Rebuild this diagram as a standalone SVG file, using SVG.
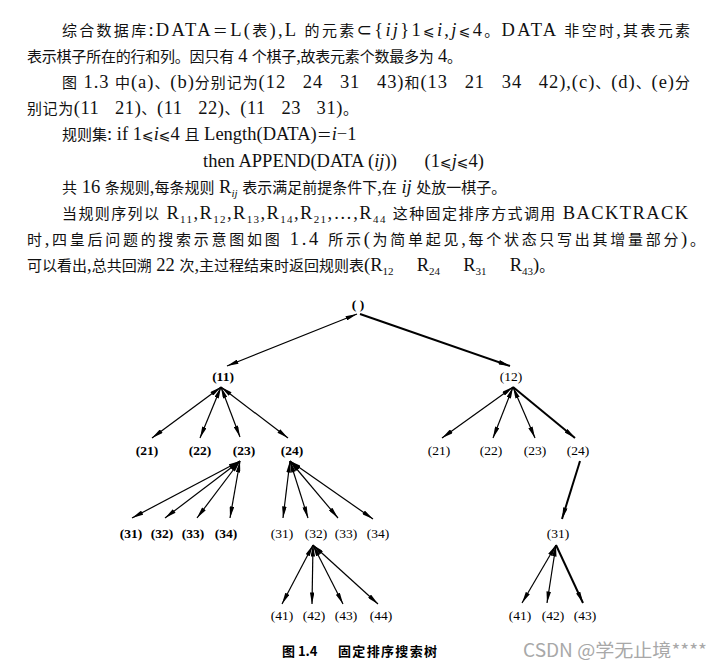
<svg xmlns="http://www.w3.org/2000/svg" width="722" height="668" viewBox="0 0 722 668">
<style>
.t{font-family:"Liberation Serif","DejaVu Sans","Noto Sans CJK SC",serif;font-size:18.5px;fill:#111}
.c{font-family:"Noto Sans CJK SC",sans-serif;font-size:15px}
.le{font-family:"DejaVu Sans",sans-serif;font-size:14px}
.i{font-style:italic}
.sb{font-size:11px}
.n{font-family:"Liberation Serif","DejaVu Serif",serif;font-size:13.5px;fill:#000;text-anchor:middle}
.b{font-weight:bold}
.e{fill:none;stroke:#000;stroke-width:1.2}
.d{marker-start:url(#h);marker-end:url(#a)}
.s{fill:none;stroke:#000;stroke-width:2;marker-end:url(#a)}
</style>
<defs>
<marker id="a" viewBox="0 0 10 4" refX="10" refY="2" markerWidth="12" markerHeight="4.6" markerUnits="userSpaceOnUse" orient="auto"><path d="M0,0L10,2L0,4z" fill="#000"/></marker>
<marker id="h" viewBox="0 0 10 4" refX="10" refY="2" markerWidth="12" markerHeight="4.6" markerUnits="userSpaceOnUse" orient="auto-start-reverse"><path d="M0,0L10,2L0,4z" fill="#000"/></marker>
</defs>
<rect width="722" height="668" fill="#fff"/>
<g id="body-text" class="t">
<text x="62" y="36" textLength="628" lengthAdjust="spacing"><tspan class="c">综合数据库</tspan>:DATA<tspan class="c">＝</tspan>L(<tspan class="c">表</tspan>),L <tspan class="c">的元素</tspan>⊂{<tspan class="i">ij</tspan>}1<tspan class="le">⩽</tspan><tspan class="i">i</tspan>,<tspan class="i">j</tspan><tspan class="le">⩽</tspan>4<tspan class="c">。</tspan>DATA <tspan class="c">非空时</tspan>,<tspan class="c">其表元素</tspan></text>
<text x="27" y="62" textLength="435" lengthAdjust="spacing"><tspan class="c">表示棋子所在的行和列。因只有</tspan> 4 <tspan class="c">个棋子</tspan>,<tspan class="c">故表元素个数最多为</tspan> 4<tspan class="c">。</tspan></text>
<text x="62" y="88" textLength="628" lengthAdjust="spacing" xml:space="preserve"><tspan class="c">图</tspan> 1.3 <tspan class="c">中</tspan>(a)<tspan class="c">、</tspan>(b)<tspan class="c">分别记为</tspan>(12   24   31   43)<tspan class="c">和</tspan>(13   21   34   42),(c)<tspan class="c">、</tspan>(d)<tspan class="c">、</tspan>(e)<tspan class="c">分</tspan></text>
<text x="27" y="114" textLength="331" lengthAdjust="spacing" xml:space="preserve"><tspan class="c">别记为</tspan>(11   21)<tspan class="c">、</tspan>(11   22)<tspan class="c">、</tspan>(11   23   31)<tspan class="c">。</tspan></text>
<text x="62" y="140"><tspan class="c">规则集</tspan>: if 1<tspan class="le">⩽</tspan><tspan class="i">i</tspan><tspan class="le">⩽</tspan>4 <tspan class="c">且</tspan> Length(DATA)<tspan class="c">＝</tspan><tspan class="i">i</tspan>−1</text>
<text x="203" y="167" xml:space="preserve">then APPEND(DATA (<tspan class="i">ij</tspan>))      (1<tspan class="le">⩽</tspan><tspan class="i">j</tspan><tspan class="le">⩽</tspan>4)</text>
<text x="62" y="193"><tspan class="c">共</tspan> 16 <tspan class="c">条规则</tspan>,<tspan class="c">每条规则</tspan> R<tspan class="sb i" dy="4">ij</tspan><tspan dy="-4"> </tspan><tspan class="c">表示满足前提条件下</tspan>,<tspan class="c">在</tspan> <tspan class="i">ij</tspan> <tspan class="c">处放一棋子。</tspan></text>
<text x="62" y="219" textLength="626" lengthAdjust="spacing"><tspan class="c">当规则序列以</tspan> R<tspan class="sb" dy="4">11</tspan><tspan dy="-4">,R</tspan><tspan class="sb" dy="4">12</tspan><tspan dy="-4">,R</tspan><tspan class="sb" dy="4">13</tspan><tspan dy="-4">,R</tspan><tspan class="sb" dy="4">14</tspan><tspan dy="-4">,R</tspan><tspan class="sb" dy="4">21</tspan><tspan dy="-4">,…,R</tspan><tspan class="sb" dy="4">44</tspan><tspan dy="-4"> </tspan><tspan class="c">这种固定排序方式调用</tspan> BACKTRACK</text>
<text x="27" y="245" textLength="678" lengthAdjust="spacing"><tspan class="c">时</tspan>,<tspan class="c">四皇后问题的搜索示意图如图</tspan> 1.4 <tspan class="c">所示</tspan>(<tspan class="c">为简单起见</tspan>,<tspan class="c">每个状态只写出其增量部分</tspan>)<tspan class="c">。</tspan></text>
<text x="27" y="271" xml:space="preserve"><tspan class="c">可以看出</tspan>,<tspan class="c">总共回溯</tspan> 22 <tspan class="c">次</tspan>,<tspan class="c">主过程结束时返回规则表</tspan>(R<tspan class="sb" dy="4">12</tspan><tspan dy="-4">     R</tspan><tspan class="sb" dy="4">24</tspan><tspan dy="-4">     R</tspan><tspan class="sb" dy="4">31</tspan><tspan dy="-4">     R</tspan><tspan class="sb" dy="4">43</tspan><tspan dy="-4">)</tspan><tspan class="c">。</tspan></text>
</g>
<g id="connectors">
<line class="e d" x1="357" y1="314" x2="227" y2="366"/>
<line class="s" x1="360" y1="314" x2="510" y2="366"/>
<line class="e d" x1="221" y1="387" x2="152" y2="438"/>
<line class="e d" x1="221" y1="387" x2="200" y2="438"/>
<line class="e d" x1="221" y1="387" x2="240" y2="437"/>
<line class="e d" x1="221" y1="387" x2="288" y2="438"/>
<line class="e d" x1="240" y1="461" x2="132" y2="518"/>
<line class="e d" x1="240" y1="461" x2="165" y2="518"/>
<line class="e d" x1="240" y1="461" x2="197" y2="518"/>
<line class="e d" x1="240" y1="461" x2="230" y2="518"/>
<line class="e d" x1="290" y1="461" x2="283" y2="518"/>
<line class="e d" x1="290" y1="461" x2="308" y2="518"/>
<line class="e d" x1="290" y1="461" x2="338" y2="518"/>
<line class="e d" x1="290" y1="461" x2="373" y2="519"/>
<line class="e d" x1="313" y1="545" x2="282" y2="604"/>
<line class="e d" x1="313" y1="545" x2="312" y2="604"/>
<line class="e d" x1="313" y1="545" x2="343" y2="604"/>
<line class="e d" x1="313" y1="545" x2="378" y2="604"/>
<line class="e d" x1="513" y1="387" x2="442" y2="438"/>
<line class="e d" x1="513" y1="387" x2="493" y2="438"/>
<line class="e d" x1="513" y1="387" x2="535" y2="438"/>
<line class="s" x1="513" y1="387" x2="575" y2="438"/>
<line class="s" x1="580" y1="461" x2="562" y2="519"/>
<line class="e d" x1="556" y1="545" x2="522" y2="603"/>
<line class="e d" x1="556" y1="545" x2="547" y2="603"/>
<line class="s" x1="556" y1="545" x2="583" y2="603"/>
</g>
<g id="n-root"><text class="n b" x="358" y="309">( )</text></g>
<g id="n-11"><text class="n b" x="223" y="381">(11)</text></g>
<g id="n-12"><text class="n" x="511" y="381">(12)</text></g>
<g id="n-11-21"><text class="n b" x="147" y="455">(21)</text></g>
<g id="n-11-22"><text class="n b" x="200" y="455">(22)</text></g>
<g id="n-11-23"><text class="n b" x="244" y="455">(23)</text></g>
<g id="n-11-24"><text class="n b" x="292" y="455">(24)</text></g>
<g id="n-12-21"><text class="n" x="439" y="455">(21)</text></g>
<g id="n-12-22"><text class="n" x="491" y="455">(22)</text></g>
<g id="n-12-23"><text class="n" x="535" y="455">(23)</text></g>
<g id="n-12-24"><text class="n" x="578" y="455">(24)</text></g>
<g id="n-23-31"><text class="n b" x="131" y="538">(31)</text></g>
<g id="n-23-32"><text class="n b" x="162" y="538">(32)</text></g>
<g id="n-23-33"><text class="n b" x="193" y="538">(33)</text></g>
<g id="n-23-34"><text class="n b" x="226" y="538">(34)</text></g>
<g id="n-24-31"><text class="n" x="282" y="538">(31)</text></g>
<g id="n-24-32"><text class="n" x="316" y="538">(32)</text></g>
<g id="n-24-33"><text class="n" x="346" y="538">(33)</text></g>
<g id="n-24-34"><text class="n" x="378" y="538">(34)</text></g>
<g id="n-32-41"><text class="n" x="282" y="620">(41)</text></g>
<g id="n-32-42"><text class="n" x="314" y="620">(42)</text></g>
<g id="n-32-43"><text class="n" x="346" y="620">(43)</text></g>
<g id="n-32-44"><text class="n" x="381" y="620">(44)</text></g>
<g id="n-r31"><text class="n" x="558" y="538">(31)</text></g>
<g id="n-r41"><text class="n" x="520" y="620">(41)</text></g>
<g id="n-r42"><text class="n" x="553" y="620">(42)</text></g>
<g id="n-r43"><text class="n" x="585" y="620">(43)</text></g>
<g id="caption">
<text x="282" y="656" font-family="Noto Sans CJK SC,sans-serif" font-size="13" font-weight="bold" fill="#000">图 1.4</text>
<text x="338" y="656" font-family="Noto Sans CJK SC,sans-serif" font-size="13" font-weight="bold" fill="#000" textLength="99" lengthAdjust="spacing">固定排序搜索树</text>
</g>
<text x="523" y="657" font-family="Noto Sans CJK SC,sans-serif" font-size="18" fill="#a8a8a8" textLength="184" lengthAdjust="spacingAndGlyphs">CSDN @学无止境****</text>
</svg>
